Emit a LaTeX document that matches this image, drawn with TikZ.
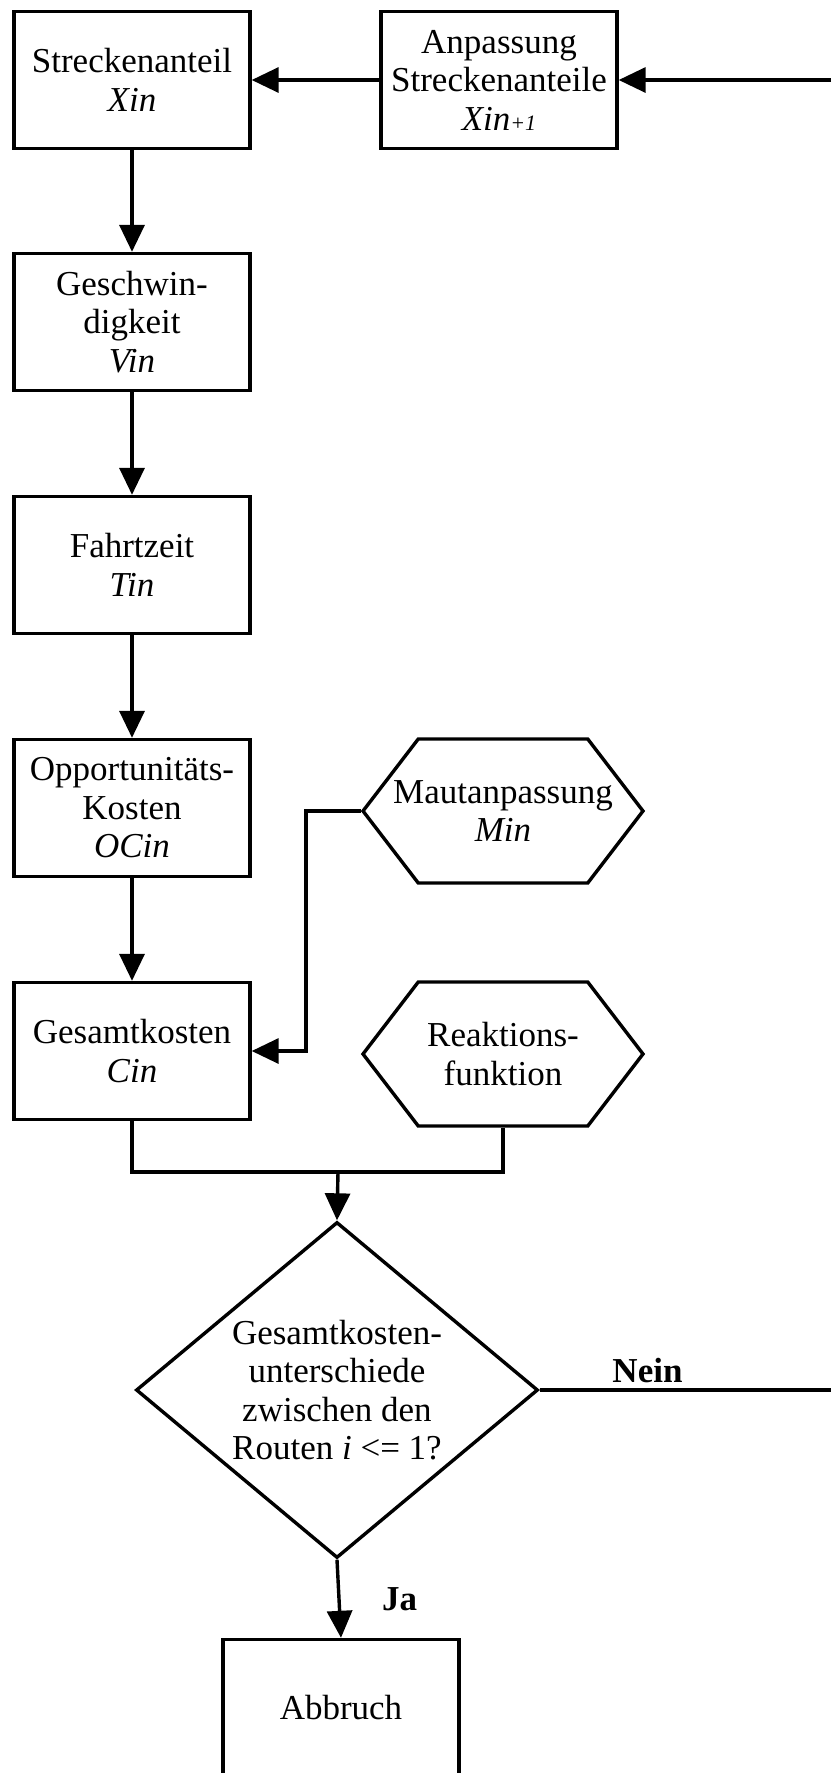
\documentclass[tikz,border=0pt]{standalone}
\usepackage{fontspec}
\setmainfont{Liberation Serif}
\usetikzlibrary{positioning,shapes.geometric,shapes.symbols,arrows.meta}
\begin{document}
\begin{tikzpicture}[x=1pt,y=-1pt,line width=3.4pt,>={Triangle[length=27pt,width=25pt]},
    font=\fontsize{35}{38.5}\selectfont,
    box/.style={draw,rectangle,minimum width=236pt,minimum height=137pt,align=center,inner sep=0pt},
    hexa/.style={draw,signal,signal to=west and east,signal pointer angle=105,minimum width=280pt,minimum height=144pt,inner sep=0pt,
        label={[align=center]center:#1}},
    decide/.style={draw,diamond,aspect=1.2,minimum width=402pt,minimum height=336pt,inner sep=0pt,align=center},
    arr/.style={->}]
    \useasboundingbox (0,0) rectangle (831,1773);
    \def\colx{132}

    % left column
    \node[box] (xin) at (\colx,80) {Streckenanteil\\\textit{Xin}};
    \node[box] (anp) at (499,80) {Anpassung\\Streckenanteile\\\textit{Xin}{\fontsize{22}{22}\selectfont\textit{+1}}};
    \node[box] (vin) at (\colx,322) {Geschwin-\\digkeit\\\textit{Vin}};
    \node[box] (tin) at (\colx,565) {Fahrtzeit\\\textit{Tin}};
    \node[box] (ocin) at (\colx,808) {Opportunitäts-\\Kosten\\\textit{OCin}};
    \node[box] (cin) at (\colx,1051) {Gesamtkosten\\\textit{Cin}};

    % inputs
    \node[hexa={Mautanpassung\\\textit{Min}}] (mau) at (503,811) {};
    \node[hexa={Reaktions-\\funktion}] (rea) at (503,1054) {};

    % decision
    \node[decide] (diam) at (337,1390) {Gesamtkosten-\\unterschiede\\zwischen den\\Routen \textit{i} <= 1?};
    \node[box] (abb) at (341,1708) {Abbruch};

    \coordinate (rin) at (831,80);
    \coordinate (rout) at (831,1390);
    \coordinate (mbend) at (306,811);
    \coordinate (join) at (338,1172);

    \draw[arr] (rin) -- (anp.east);
    \draw[arr] (anp) -- (xin);
    \draw[arr] (xin) -- (vin);
    \draw[arr] (vin) -- (tin);
    \draw[arr] (tin) -- (ocin);
    \draw[arr] (ocin) -- (cin);
    \draw[arr] (mau.west) -- (mbend) |- (cin.east);
    \draw (cin.south) |- (join);
    \draw (rea.south) |- (join);
    \draw[arr] (join) -- (diam.north);
    \draw (diam.east) -- (rout) node[pos=.37,above=2pt]{\textbf{Nein}};
    \draw[arr] (diam.south) -- (abb.north) node[midway,right=38pt]{\textbf{Ja}};
\end{tikzpicture}
\end{document}
